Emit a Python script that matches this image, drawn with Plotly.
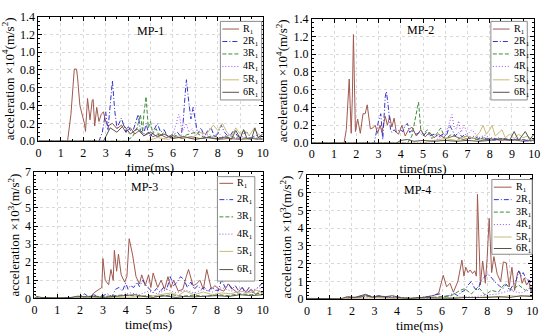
import plotly.graph_objects as go

# ---------------- data (time in ms, acceleration) ----------------
# MP-1 (x10^4 m/s^2)
mp1_r1_t = [0, 1.3, 1.45, 1.55, 1.6, 1.7, 1.75, 1.85, 1.95, 2.05, 2.1, 2.19, 2.3, 2.4, 2.44, 2.51, 2.6, 2.7, 2.8, 2.9, 3.0, 3.1, 3.3, 3.5, 3.7, 3.9, 4.1, 4.3, 4.5, 4.7, 4.9, 5.1, 5.4, 5.7, 6.0, 6.4, 6.8, 7.2, 7.6, 8.0, 8.5, 9.0, 9.5, 10]
mp1_r1_v = [0, 0, 0.3, 0.7, 0.81, 0.81, 0.7, 0.4, 0.3, 0.2, 0.11, 0.48, 0.24, 0.46, 0.47, 0.17, 0.38, 0.22, 0.3, 0.33, 0.22, 0.17, 0.2, 0.14, 0.18, 0.1, 0.15, 0.08, 0.12, 0.06, 0.1, 0.05, 0.08, 0.04, 0.06, 0.03, 0.05, 0.03, 0.04, 0.02, 0.03, 0.02, 0.03, 0.02]
mp1_2r1_t = [0, 2.7, 2.85, 3.0, 3.1, 3.2, 3.3, 3.4, 3.5, 3.6, 3.7, 3.8, 3.9, 4.0, 4.1, 4.2, 4.35, 4.45, 4.55, 4.7, 4.8, 4.9, 5.0, 5.15, 5.3, 5.45, 5.6, 5.75, 5.9, 6.05, 6.2, 6.35, 6.45, 6.55, 6.6, 6.7, 6.8, 6.9, 7.0, 7.1, 7.25, 7.4, 7.55, 7.7, 7.85, 8.0, 8.15, 8.3, 8.5, 8.7, 8.9, 9.1, 9.3, 9.5, 9.7, 9.85, 10]
mp1_2r1_v = [0, 0, 0.1, 0.33, 0.12, 0.4, 0.68, 0.35, 0.15, 0.2, 0.26, 0.18, 0.1, 0.17, 0.12, 0.1, 0.22, 0.3, 0.12, 0.08, 0.2, 0.1, 0.05, 0.12, 0.2, 0.1, 0.13, 0.06, 0.04, 0.08, 0.1, 0.05, 0.2, 0.55, 0.69, 0.45, 0.25, 0.38, 0.2, 0.08, 0.15, 0.05, 0.12, 0.15, 0.05, 0.08, 0.18, 0.1, 0.04, 0.12, 0.05, 0.08, 0.1, 0.03, 0.07, 0.03, 0.08]
mp1_3r1_t = [0, 3.9, 4.2, 4.4, 4.55, 4.65, 4.7, 4.8, 4.9, 5.0, 5.1, 5.25, 5.4, 5.6, 5.8, 6.0, 6.3, 6.6, 7.0, 7.4, 7.8, 8.2, 8.6, 9.0, 9.4, 9.8, 10]
mp1_3r1_v = [0, 0, 0.05, 0.15, 0.3, 0.1, 0.3, 0.5, 0.15, 0.22, 0.08, 0.14, 0.05, 0.1, 0.05, 0.08, 0.04, 0.07, 0.1, 0.04, 0.06, 0.03, 0.05, 0.03, 0.04, 0.02, 0.03]
mp1_4r1_t = [0, 5.4, 5.8, 6.0, 6.15, 6.25, 6.3, 6.4, 6.5, 6.6, 6.7, 6.85, 7.0, 7.2, 7.4, 7.6, 7.8, 8.0, 8.2, 8.5, 8.8, 9.1, 9.4, 9.7, 10]
mp1_4r1_v = [0, 0, 0.05, 0.08, 0.2, 0.3, 0.28, 0.1, 0.15, 0.2, 0.1, 0.14, 0.06, 0.1, 0.05, 0.08, 0.04, 0.1, 0.05, 0.07, 0.03, 0.05, 0.03, 0.04, 0.02]
mp1_5r1_t = [0, 4.8, 5.3, 5.8, 6.3, 6.8, 7.2, 7.5, 7.8, 8.0, 8.2, 8.4, 8.6, 8.8, 9.0, 9.2, 9.4, 9.6, 9.8, 10]
mp1_5r1_v = [0, 0, 0.04, 0.02, 0.06, 0.03, 0.1, 0.08, 0.18, 0.12, 0.2, 0.1, 0.05, 0.15, 0.08, 0.12, 0.06, 0.14, 0.08, 0.05]
mp1_6r1_t = [0, 2.9, 3.2, 3.5, 3.8, 4.1, 4.4, 4.7, 5.0, 5.3, 5.6, 6.0, 6.5, 7.0, 7.5, 8.0, 8.4, 8.6, 8.8, 9.0, 9.15, 9.3, 9.5, 9.65, 9.8, 10]
mp1_6r1_v = [0, 0, 0.15, 0.1, 0.18, 0.08, 0.14, 0.06, 0.1, 0.05, 0.08, 0.03, 0.05, 0.02, 0.04, 0.03, 0.05, 0.02, 0.12, 0.03, 0.13, 0.03, 0.02, 0.15, 0.04, 0.08]

# MP-2 (x10^4 m/s^2)
mp2_r1_t = [0, 1.45, 1.55, 1.62, 1.68, 1.77, 1.82, 1.87, 1.96, 2.06, 2.18, 2.3, 2.4, 2.49, 2.63, 2.74, 2.85, 2.96, 3.07, 3.15, 3.3, 3.4, 3.5, 3.6, 3.7, 3.8, 3.9, 4.05, 4.2, 4.35, 4.5, 4.7, 4.9, 5.1, 5.3, 5.5, 5.7, 6.0, 6.4, 6.8, 7.2, 7.6, 8.0, 8.5, 9.0, 9.5, 10]
mp2_r1_v = [0, 0, 0.15, 0.5, 0.72, 0.11, 0.5, 1.22, 0.13, 0.27, 0.11, 0.33, 0.33, 0.43, 0.16, 0.17, 0.2, 0.11, 0.2, 0.12, 0.3, 0.2, 0.3, 0.18, 0.28, 0.12, 0.1, 0.2, 0.08, 0.15, 0.18, 0.08, 0.15, 0.07, 0.12, 0.06, 0.1, 0.05, 0.08, 0.04, 0.06, 0.03, 0.05, 0.03, 0.04, 0.02, 0.03]
mp2_2r1_t = [0, 2.8, 2.9, 3.0, 3.1, 3.19, 3.3, 3.35, 3.42, 3.54, 3.6, 3.7, 3.8, 3.95, 4.1, 4.2, 4.3, 4.4, 4.55, 4.7, 4.85, 5.0, 5.15, 5.3, 5.5, 5.7, 5.9, 6.05, 6.2, 6.3, 6.45, 6.6, 6.75, 6.9, 7.1, 7.3, 7.5, 7.7, 7.9, 8.1, 8.4, 8.7, 9.0, 9.3, 9.6, 10]
mp2_2r1_v = [0, 0, 0.12, 0.25, 0.33, 0.04, 0.52, 0.58, 0.45, 0.15, 0.12, 0.15, 0.12, 0.15, 0.13, 0.2, 0.22, 0.12, 0.15, 0.1, 0.12, 0.08, 0.12, 0.08, 0.1, 0.07, 0.1, 0.08, 0.2, 0.15, 0.08, 0.12, 0.07, 0.1, 0.05, 0.08, 0.05, 0.07, 0.04, 0.06, 0.04, 0.05, 0.03, 0.05, 0.03, 0.04]
mp2_3r1_t = [0, 4.3, 4.5, 4.65, 4.75, 4.8, 4.9, 5.0, 5.2, 5.4, 5.6, 5.8, 6.0, 6.3, 6.6, 7.0, 7.4, 7.8, 8.2, 8.6, 9.0, 9.5, 10]
mp2_3r1_v = [0, 0, 0.08, 0.25, 0.4, 0.46, 0.15, 0.1, 0.15, 0.05, 0.1, 0.17, 0.05, 0.1, 0.05, 0.08, 0.04, 0.06, 0.03, 0.05, 0.03, 0.04, 0.02]
mp2_4r1_t = [0, 5.3, 5.7, 6.0, 6.15, 6.25, 6.3, 6.4, 6.5, 6.6, 6.7, 6.85, 7.0, 7.2, 7.5, 7.8, 8.1, 8.4, 8.8, 9.2, 9.6, 10]
mp2_4r1_v = [0, 0, 0.05, 0.1, 0.2, 0.3, 0.32, 0.18, 0.15, 0.25, 0.12, 0.2, 0.1, 0.15, 0.06, 0.09, 0.04, 0.06, 0.03, 0.04, 0.02, 0.03]
mp2_5r1_t = [0, 5.0, 5.5, 6.0, 6.5, 7.0, 7.3, 7.55, 7.7, 7.85, 8.0, 8.1, 8.25, 8.4, 8.55, 8.7, 8.9, 9.1, 9.3, 9.5, 9.7, 9.9, 10]
mp2_5r1_v = [0, 0, 0.03, 0.05, 0.03, 0.08, 0.05, 0.12, 0.2, 0.1, 0.15, 0.2, 0.08, 0.12, 0.15, 0.06, 0.1, 0.05, 0.1, 0.06, 0.08, 0.04, 0.05]
mp2_6r1_t = [0, 3.8, 4.0, 4.3, 4.6, 5.0, 5.5, 6.0, 6.5, 7.0, 7.5, 8.0, 8.5, 8.9, 9.1, 9.3, 9.45, 9.6, 9.8, 10]
mp2_6r1_v = [0, 0, 0.03, 0.04, 0.02, 0.03, 0.02, 0.03, 0.02, 0.03, 0.02, 0.03, 0.05, 0.03, 0.13, 0.03, 0.08, 0.13, 0.04, 0.1]

# MP-3 (x10^3 m/s^2)
mp3_r1_t = [0, 2.4, 2.6, 2.8, 2.95, 3.0, 3.1, 3.25, 3.35, 3.45, 3.5, 3.6, 3.68, 3.8, 3.95, 4.05, 4.15, 4.3, 4.45, 4.6, 4.7, 4.85, 5.0, 5.1, 5.2, 5.4, 5.55, 5.7, 5.85, 5.98, 6.1, 6.3, 6.5, 6.65, 6.75, 6.95, 7.1, 7.25, 7.4, 7.55, 7.75, 7.9, 8.1, 8.3, 8.5, 8.7, 8.9, 9.1, 9.3, 9.5, 9.7, 9.85, 10]
mp3_r1_v = [0, 0, 0.3, 0.5, 0.6, 2.2, 1.0, 0.75, 1.6, 1.0, 2.65, 1.5, 2.45, 1.3, 0.9, 1.2, 3.3, 2.4, 1.2, 0.8, 1.3, 0.7, 1.3, 0.6, 1.4, 0.6, 1.0, 0.5, 1.2, 0.6, 1.0, 0.4, 0.5, 1.2, 1.6, 0.7, 0.8, 1.0, 0.5, 1.6, 0.5, 0.7, 0.5, 0.4, 0.8, 0.5, 0.3, 0.6, 0.3, 0.5, 0.2, 0.4, 0.3]
mp3_2r1_t = [0, 1.8, 2.0, 2.2, 2.4, 2.6, 2.8, 3.0, 3.2, 3.4, 3.55, 3.7, 3.85, 4.0, 4.1, 4.2, 4.35, 4.5, 4.6, 4.75, 4.9, 5.05, 5.2, 5.35, 5.5, 5.65, 5.8, 5.95, 6.1, 6.25, 6.4, 6.55, 6.7, 6.85, 7.0, 7.15, 7.3, 7.45, 7.6, 7.75, 7.9, 8.05, 8.2, 8.35, 8.5, 8.65, 8.8, 8.95, 9.1, 9.25, 9.4, 9.55, 9.7, 9.85, 10]
mp3_2r1_v = [0, 0, 0.1, 0.25, 0.05, 0.2, 0.1, 0.15, 0.25, 0.1, 0.5, 0.6, 0.4, 0.85, 0.5, 0.7, 0.6, 0.9, 0.65, 1.0, 0.7, 0.5, 0.3, 0.55, 0.35, 0.6, 0.5, 1.2, 0.7, 0.9, 1.2, 1.05, 0.6, 0.9, 0.5, 0.7, 0.5, 0.6, 0.35, 0.6, 0.5, 0.4, 1.05, 0.6, 0.8, 0.5, 0.7, 0.4, 0.6, 0.3, 0.6, 0.3, 0.5, 0.7, 0.85]
mp3_3r1_t = [0, 0.5, 1.0, 1.5, 2.0, 2.5, 3.0, 3.5, 4.0, 4.5, 5.0, 5.5, 6.0, 6.5, 7.0, 7.5, 8.0, 8.5, 9.0, 9.5, 10]
mp3_3r1_v = [0.05, 0.02, 0.02, 0.03, 0.08, 0.12, 0.1, 0.15, 0.2, 0.1, 0.15, 0.1, 0.2, 0.12, 0.18, 0.1, 0.2, 0.15, 0.25, 0.2, 0.3]
mp3_4r1_t = [0, 2, 3, 3.8, 4.2, 4.6, 5.0, 5.4, 5.8, 6.2, 6.6, 7.0, 7.4, 7.8, 8.2, 8.6, 9.0, 9.4, 9.8, 10]
mp3_4r1_v = [0, 0.02, 0.05, 0.15, 0.3, 0.2, 0.4, 0.25, 0.5, 0.3, 0.45, 0.3, 0.5, 0.35, 0.6, 0.4, 0.5, 0.35, 0.6, 0.5]
mp3_5r1_t = [0, 2, 3, 4, 5, 5.5, 6.0, 6.3, 6.6, 7.0, 7.4, 7.8, 8.2, 8.6, 9.0, 9.4, 9.7, 10]
mp3_5r1_v = [0, 0.02, 0.04, 0.06, 0.1, 0.2, 0.3, 0.15, 0.4, 0.2, 0.35, 0.2, 0.3, 0.25, 0.4, 0.3, 0.45, 0.35]
mp3_6r1_t = [0, 0.1, 0.3, 1.0, 1.6, 1.9, 2.2, 2.6, 3.0, 3.5, 4.0, 4.4, 4.8, 5.2, 5.6, 5.9, 6.2, 6.6, 7.0, 7.5, 8.0, 8.5, 9.0, 9.5, 10]
mp3_6r1_v = [0.2, 0.1, 0.05, 0.02, 0.05, 0.12, 0.08, 0.1, 0.05, 0.1, 0.15, 0.2, 0.1, 0.05, 0.15, 0.1, 0.05, 0.1, 0.08, 0.12, 0.15, 0.1, 0.2, 0.15, 0.2]

# MP-4 (x10^3 m/s^2)
mp4_r1_t = [0, 1.5, 1.8, 2.0, 2.3, 2.6, 2.9, 3.2, 3.5, 3.8, 4.2, 4.6, 5.0, 5.3, 5.6, 5.85, 6.05, 6.2, 6.35, 6.5, 6.7, 6.88, 6.97, 7.05, 7.15, 7.25, 7.35, 7.45, 7.52, 7.57, 7.7, 7.8, 7.92, 8.0, 8.09, 8.2, 8.3, 8.45, 8.6, 8.72, 8.85, 8.98, 9.1, 9.22, 9.35, 9.45, 9.55, 9.65, 9.75, 9.85, 9.95, 10]
mp4_r1_v = [0, 0, 0.1, 0.12, 0.08, 0.2, 0.1, 0.15, 0.1, 0.08, 0.05, 0.05, 0.08, 0.12, 0.2, 0.35, 1.35, 0.7, 0.9, 0.4, 1.0, 2.2, 1.3, 1.8, 1.5, 1.65, 1.45, 1.6, 1.3, 5.9, 0.8, 2.15, 0.9, 2.3, 4.55, 1.5, 2.4, 1.4, 1.0, 2.1, 2.05, 0.7, 1.8, 0.5, 1.5, 1.55, 0.9, 1.2, 0.8, 1.0, 0.4, 0.5]
mp4_2r1_t = [0, 1.7, 2.0, 2.3, 2.6, 2.9, 3.2, 3.5, 3.8, 4.2, 4.6, 5.0, 5.4, 5.7, 5.9, 6.1, 6.3, 6.5, 6.7, 6.85, 7.0, 7.15, 7.3, 7.45, 7.6, 7.7, 7.85, 8.0, 8.1, 8.25, 8.4, 8.55, 8.7, 8.85, 9.0, 9.15, 9.3, 9.4, 9.5, 9.6, 9.75, 9.9, 10]
mp4_2r1_v = [0, 0, 0.1, 0.15, 0.25, 0.15, 0.2, 0.1, 0.15, 0.08, 0.05, 0.1, 0.15, 0.25, 0.3, 0.15, 0.2, 0.35, 0.2, 0.4, 0.5, 0.8, 1.0, 0.6, 0.5, 1.0, 1.2, 1.4, 1.35, 1.1, 0.9, 0.75, 0.6, 0.85, 0.5, 0.8, 1.1, 1.6, 1.3, 1.5, 1.1, 1.05, 0.4]
mp4_3r1_t = [0, 1.7, 2.2, 2.6, 3.0, 3.5, 4.0, 5.0, 5.5, 6.0, 6.4, 6.8, 7.0, 7.3, 7.6, 7.9, 8.2, 8.5, 8.8, 9.1, 9.4, 9.7, 10]
mp4_3r1_v = [0, 0, 0.1, 0.2, 0.12, 0.15, 0.05, 0.05, 0.1, 0.15, 0.2, 0.5, 0.6, 0.3, 0.7, 0.25, 0.5, 0.4, 0.9, 0.5, 0.8, 0.5, 0.7]
mp4_4r1_t = [0, 2, 2.5, 3, 3.5, 4, 5, 6, 6.5, 7.0, 7.5, 8.0, 8.5, 9.0, 9.5, 10]
mp4_4r1_v = [0, 0.05, 0.15, 0.1, 0.12, 0.05, 0.05, 0.08, 0.1, 0.12, 0.15, 0.25, 0.3, 0.5, 0.35, 0.6]
mp4_5r1_t = [0, 2, 3, 4, 5, 6, 6.5, 7, 7.5, 8, 8.5, 9, 9.5, 10]
mp4_5r1_v = [0, 0.03, 0.08, 0.05, 0.05, 0.08, 0.1, 0.12, 0.08, 0.15, 0.1, 0.2, 0.15, 0.25]
mp4_6r1_t = [0, 1.5, 1.8, 2.1, 2.4, 2.6, 2.9, 3.2, 3.5, 3.8, 4.2, 4.6, 5.0, 5.5, 6.0, 6.5, 7.0, 7.5, 8.0, 8.5, 9.0, 9.5, 10]
mp4_6r1_v = [0.05, 0.03, 0.15, 0.1, 0.2, 0.28, 0.12, 0.18, 0.15, 0.2, 0.08, 0.05, 0.1, 0.08, 0.1, 0.05, 0.1, 0.08, 0.1, 0.15, 0.1, 0.2, 0.15]

series_names = ["R<sub>1</sub>", "2R<sub>1</sub>", "3R<sub>1</sub>", "4R<sub>1</sub>", "5R<sub>1</sub>", "6R<sub>1</sub>"]
panel_titles = ["MP-1", "MP-2", "MP-3", "MP-4"]
x_ticks = [0, 1, 2, 3, 4, 5, 6, 7, 8, 9, 10]

# ---------------- style ----------------
colors = ["#a0584e", "#3535cc", "#3f8a3a", "#a24df2", "#cbb978", "#55544a"]
dashes = ["solid", "5px,2px,1px,2px", "4px,2px", "1px,2px", "solid", "solid"]
FONT = "Liberation Serif"
W, H = 550, 336

panels = [
    [(mp1_r1_t, mp1_r1_v), (mp1_2r1_t, mp1_2r1_v), (mp1_3r1_t, mp1_3r1_v), (mp1_4r1_t, mp1_4r1_v), (mp1_5r1_t, mp1_5r1_v), (mp1_6r1_t, mp1_6r1_v)],
    [(mp2_r1_t, mp2_r1_v), (mp2_2r1_t, mp2_2r1_v), (mp2_3r1_t, mp2_3r1_v), (mp2_4r1_t, mp2_4r1_v), (mp2_5r1_t, mp2_5r1_v), (mp2_6r1_t, mp2_6r1_v)],
    [(mp3_r1_t, mp3_r1_v), (mp3_2r1_t, mp3_2r1_v), (mp3_3r1_t, mp3_3r1_v), (mp3_4r1_t, mp3_4r1_v), (mp3_5r1_t, mp3_5r1_v), (mp3_6r1_t, mp3_6r1_v)],
    [(mp4_r1_t, mp4_r1_v), (mp4_2r1_t, mp4_2r1_v), (mp4_3r1_t, mp4_3r1_v), (mp4_4r1_t, mp4_4r1_v), (mp4_5r1_t, mp4_5r1_v), (mp4_6r1_t, mp4_6r1_v)],
]

# pixel boxes of plot areas: (x0, x1, ytop, ybottom)
boxes = [(36, 264, 10, 140), (314, 540, 12, 142), (32, 264, 172, 304), (309, 538, 175, 305)]
yranges = [(0, 1.4), (0, 1.4), (0, 7), (0, 7)]
ydticks = [0.2, 0.2, 1, 1]
yfmts = [".1f", ".1f", "d", "d"]
ytitles = ["acceleration \u00d710<sup>4</sup>(m/s<sup>2</sup>)", "acceleration \u00d710<sup>4</sup>(m/s<sup>2</sup>)",
           "acceleration \u00d710<sup>3</sup>(m/s<sup>2</sup>)", "acceleration \u00d710<sup>3</sup>(m/s<sup>2</sup>)"]
label_pos = [(5.0, 1.24), (4.9, 1.27), (4.8, 6.15), (4.93, 6.14)]
# legend boxes in pixels: (x0, x1, ytop, ybottom), line sample x-range, text x, item y centres
leg_boxes = [(221, 263, 15, 97), (496, 533, 15, 97), (218, 256, 177, 286), (497, 538, 180, 258)]
leg_line_x = [(223, 240), (498, 515), (220, 234), (499, 517)]
leg_text_x = [242, 517, 236, 519]
leg_item_y = [[23, 36, 49, 62, 76, 89], [23, 36, 49, 62, 76, 89],
              [184, 201, 219, 237, 255, 274], [188, 201, 214, 227, 240, 252]]


def px(x):
    return x / W


def py(y):
    return 1 - y / H


fig = go.Figure()
layout = dict(width=W, height=H, margin=dict(l=0, r=0, t=0, b=0),
              paper_bgcolor="white", plot_bgcolor="white", showlegend=False,
              font=dict(family=FONT, size=12, color="black"), annotations=[], shapes=[])

for p in range(4):
    sfx = "" if p == 0 else str(p + 1)
    for s in range(6):
        t, v = panels[p][s]
        fig.add_trace(go.Scatter(
            x=t, y=v, mode="lines", name=series_names[s],
            line=dict(color=colors[s], width=1, dash=dashes[s]),
            xaxis="x" + sfx, yaxis="y" + sfx))
    x0, x1, yt, yb = boxes[p]
    common = dict(showline=True, linecolor="black", linewidth=1, mirror="allticks",
                  ticks="inside", ticklen=4, tickcolor="black",
                  showgrid=True, gridcolor="#d9d9d9", griddash="dot", gridwidth=1,
                  zeroline=False, tickfont=dict(family=FONT, size=12),
                  minor=dict(ticks="inside", ticklen=2, tickcolor="black", showgrid=False))
    layout["xaxis" + sfx] = dict(common, domain=[px(x0), px(x1)], range=[0, 10],
                                 tickvals=x_ticks, anchor="y" + sfx,
                                 title=dict(text="time(ms)", standoff=0, font=dict(family=FONT, size=13)))
    layout["yaxis" + sfx] = dict(common, domain=[py(yb), py(yt)], range=list(yranges[p]),
                                 dtick=ydticks[p], tickformat=yfmts[p], anchor="x" + sfx,
                                 title=dict(text=ytitles[p], standoff=2, font=dict(family=FONT, size=13)))
    ax, ay = label_pos[p]
    layout["annotations"].append(dict(x=ax, y=ay, xref="x" + sfx, yref="y" + sfx,
                                      text=panel_titles[p], showarrow=False,
                                      font=dict(family=FONT, size=12)))
    # manual legend (box, line samples, labels)
    bx0, bx1, byt, byb = leg_boxes[p]
    layout["shapes"].append(dict(type="rect", xref="paper", yref="paper",
                                 x0=px(bx0), x1=px(bx1), y0=py(byb), y1=py(byt),
                                 line=dict(color="#8a8a8a", width=1), fillcolor="white", layer="above"))
    lx0, lx1 = leg_line_x[p]
    for s in range(6):
        iy = leg_item_y[p][s]
        layout["shapes"].append(dict(type="line", xref="paper", yref="paper",
                                     x0=px(lx0), x1=px(lx1), y0=py(iy), y1=py(iy),
                                     line=dict(color=colors[s], width=1, dash=dashes[s]), layer="above"))
        layout["annotations"].append(dict(x=px(leg_text_x[p]), y=py(iy), xref="paper", yref="paper",
                                          xanchor="left", yanchor="middle", text=series_names[s],
                                          showarrow=False, font=dict(family=FONT, size=10)))

fig.update_layout(**layout)
fig.write_html("out.html", config={"displayModeBar": False},
               post_script="document.body.style.margin='0';document.body.style.overflow='hidden';")
